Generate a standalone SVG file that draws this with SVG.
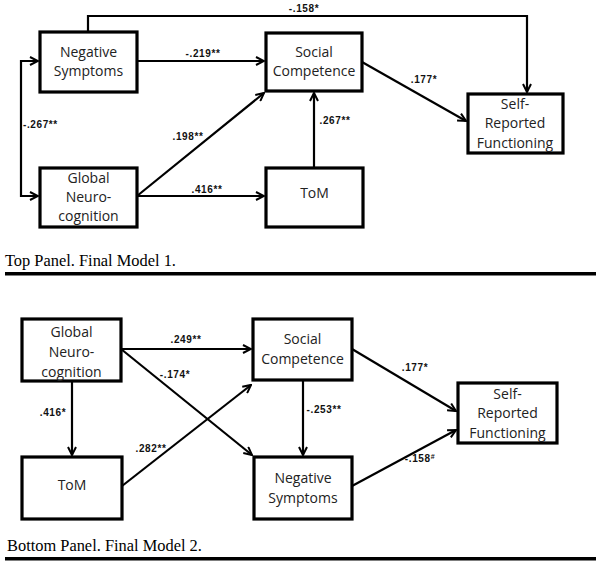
<svg xmlns="http://www.w3.org/2000/svg" width="600" height="563" viewBox="0 0 600 563">
<style>
.box{fill:#fff;stroke:#000;stroke-width:3.2}
.nt{font-family:"Open Sans","Liberation Sans",sans-serif;font-size:14px;fill:#222;text-anchor:middle}
.lb{font-family:"Liberation Sans",Arial,sans-serif;font-size:10px;font-weight:bold;fill:#111;text-anchor:middle;letter-spacing:0.6px}
.lbs{text-anchor:start}
.ln{fill:none;stroke:#000;stroke-width:2.2}
.cap{font-family:"Liberation Serif","Times New Roman",serif;font-size:16.4px;fill:#000}
</style>
<defs>
<marker id="ah" viewBox="0 0 10 10" refX="9" refY="5" markerWidth="10" markerHeight="10" markerUnits="userSpaceOnUse" orient="auto-start-reverse">
<path d="M1,1 L9,5 L1,9" fill="none" stroke="#000" stroke-width="2"/>
</marker>
</defs>
<rect width="600" height="563" fill="#fff"/>

<g id="connectors">
<path class="ln" d="M88,31 V16 H527 V92" marker-end="url(#ah)"/>
<path class="ln" d="M137,61 H264" marker-end="url(#ah)"/>
<path class="ln" d="M38,61 H21 V196 H38" marker-start="url(#ah)" marker-end="url(#ah)"/>
<path class="ln" d="M137,196 L264,93" marker-end="url(#ah)"/>
<path class="ln" d="M137,196 H264" marker-end="url(#ah)"/>
<path class="ln" d="M314,167 V93" marker-end="url(#ah)"/>
<path class="ln" d="M362,62 L466,121" marker-end="url(#ah)"/>

<path class="ln" d="M121,349 H251" marker-end="url(#ah)"/>
<path class="ln" d="M121,349 L252,455" marker-end="url(#ah)"/>
<path class="ln" d="M122,486 L251,385" marker-end="url(#ah)"/>
<path class="ln" d="M72,381 V455" marker-end="url(#ah)"/>
<path class="ln" d="M303,380 V455" marker-end="url(#ah)"/>
<path class="ln" d="M352,349 L456,411" marker-end="url(#ah)"/>
<path class="ln" d="M352,486 L456,430" marker-end="url(#ah)"/>

<text class="lb" x="304" y="12">-.158*</text>
<text class="lb" x="203" y="57">-.219**</text>
<text class="lb lbs" x="23" y="128">-.267**</text>
<text class="lb" x="188" y="140">.198**</text>
<text class="lb" x="207" y="193">.416**</text>
<text class="lb" x="335" y="124">.267**</text>
<text class="lb" x="424" y="83">.177*</text>

<text class="lb" x="186" y="343">.249**</text>
<text class="lb" x="175" y="378">-.174*</text>
<text class="lb" x="53" y="416">.416*</text>
<text class="lb" x="324" y="413">-.253**</text>
<text class="lb" x="415" y="371">.177*</text>
<text class="lb" x="151" y="452">.282**</text>
<text class="lb" x="420" y="462">-.158<tspan font-size="7" dy="-3">#</tspan></text>
</g>

<g id="top-negative-symptoms">
<rect class="box" x="40" y="32" width="97" height="60"/>
<text class="nt" x="88.5" y="57">Negative</text>
<text class="nt" x="88.5" y="76">Symptoms</text>
</g>
<g id="top-social-competence">
<rect class="box" x="266" y="33" width="96" height="58"/>
<text class="nt" x="314" y="57">Social</text>
<text class="nt" x="314" y="76">Competence</text>
</g>
<g id="top-self-reported">
<rect class="box" x="468" y="94" width="95" height="59"/>
<text class="nt" x="515" y="109">Self-</text>
<text class="nt" x="515" y="128">Reported</text>
<text class="nt" x="515" y="148">Functioning</text>
</g>
<g id="top-global-neurocognition">
<rect class="box" x="40" y="168" width="97" height="59"/>
<text class="nt" x="88.5" y="183">Global</text>
<text class="nt" x="88.5" y="202">Neuro-</text>
<text class="nt" x="88.5" y="221">cognition</text>
</g>
<g id="top-tom">
<rect class="box" x="266" y="168" width="97" height="59"/>
<text class="nt" x="314.5" y="198">ToM</text>
</g>

<g id="top-caption">
<text class="cap" x="5" y="266">Top Panel. Final Model 1.</text>
<rect x="5" y="272" width="591" height="3.5" fill="#000"/>
</g>

<g id="bottom-global-neurocognition">
<rect class="box" x="22" y="319" width="99" height="62"/>
<text class="nt" x="71.5" y="337">Global</text>
<text class="nt" x="71.5" y="357">Neuro-</text>
<text class="nt" x="71.5" y="377">cognition</text>
</g>
<g id="bottom-social-competence">
<rect class="box" x="253" y="319" width="99" height="61"/>
<text class="nt" x="302.5" y="344">Social</text>
<text class="nt" x="302.5" y="364">Competence</text>
</g>
<g id="bottom-self-reported">
<rect class="box" x="458" y="383" width="99" height="60"/>
<text class="nt" x="507.5" y="399">Self-</text>
<text class="nt" x="507.5" y="418">Reported</text>
<text class="nt" x="507.5" y="438">Functioning</text>
</g>
<g id="bottom-tom">
<rect class="box" x="22" y="457" width="100" height="62"/>
<text class="nt" x="72" y="490">ToM</text>
</g>
<g id="bottom-negative-symptoms">
<rect class="box" x="254" y="457" width="98" height="62"/>
<text class="nt" x="303" y="483">Negative</text>
<text class="nt" x="303" y="503">Symptoms</text>
</g>

<g id="bottom-caption">
<text class="cap" x="7" y="551">Bottom Panel. Final Model 2.</text>
<rect x="5" y="557" width="591" height="3.5" fill="#000"/>
</g>
</svg>
